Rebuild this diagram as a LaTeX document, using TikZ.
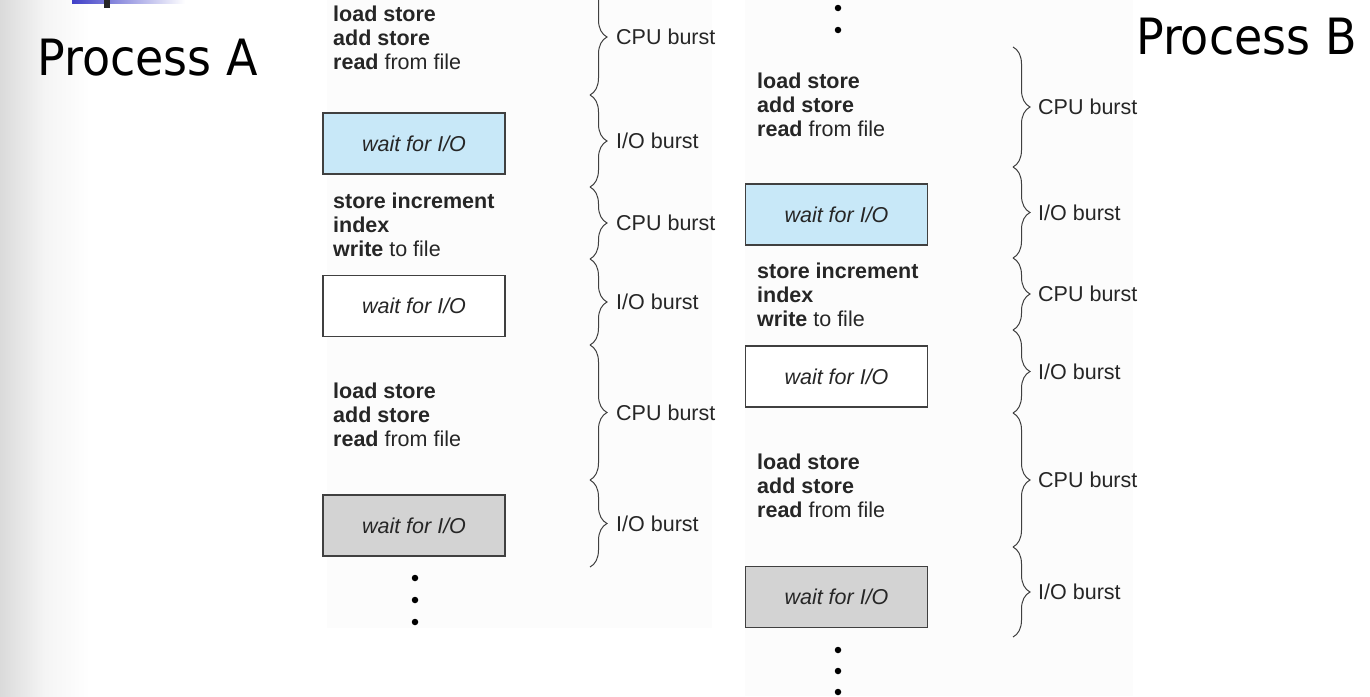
\documentclass[tikz,border=0pt]{standalone}
\usepackage{fontspec}
\setmainfont{Liberation Sans}
\newfontfamily\titlefont[FakeStretch=0.92]{DejaVu Sans}
\usetikzlibrary{decorations.pathreplacing,shadings}
\definecolor{boxblue}{HTML}{C8E8F8}
\definecolor{boxgray}{HTML}{D3D3D3}
\definecolor{ink}{HTML}{262626}
\definecolor{panel}{HTML}{FCFCFC}
\definecolor{barblue}{HTML}{4040C8}
\definecolor{stripgray}{HTML}{DADADA}
\begin{document}
\begin{tikzpicture}[x=1pt,y=-1pt,
  code/.style={anchor=north west, inner sep=0pt, align=left, font=\fontsize{21.5}{24}\selectfont, text=ink},
  waitbox/.style={draw=black!75, line width=1.3pt, minimum width=182pt, minimum height=61pt, inner sep=0pt, font=\fontsize{21.5}{24}\selectfont\itshape, text=ink},
  burstbrace/.style={decorate, decoration={brace, amplitude=17pt}, draw=black!75, line width=1pt},
  burstlabel/.style={anchor=west, inner sep=0pt, font=\fontsize{21.5}{24}\selectfont, text=ink},
  vdot/.style={circle, fill=black, inner sep=0pt, minimum size=6.5pt},
  title/.style={anchor=base west, inner sep=0pt, font=\titlefont\fontsize{50}{55}\selectfont}
]
\clip (0,0) rectangle (1370,696);
\fill[white] (0,0) rectangle (1370,696);
% background decorations
\shade[left color=stripgray, right color=white, middle color=black!4] (0,0) rectangle (90,696);
\fill[panel] (327,0) rectangle (712,628);
\fill[panel] (745,0) rectangle (1133,696);
\shade[left color=barblue, right color=white] (72,0) rectangle (185,3);
\fill[black!85] (104,0) rectangle (110,8);

% titles
\node[title] (ta) at (37,75) {Process A};
\node[title, anchor=base east] (tb) at (1357,54) {Process B};

% Process A column
\node[code] (a1) at (333,5.6) {\textbf{load store}\\\textbf{add store}\\\textbf{read} from file};
\node[waitbox, fill=boxblue] (aw1) at (414,143.5) {wait for I/O};
\node[code] (a2) at (333,192.6) {\textbf{store increment}\\\textbf{index}\\\textbf{write} to file};
\node[waitbox, fill=white] (aw2) at (414,306) {wait for I/O};
\node[code] (a3) at (333,382.6) {\textbf{load store}\\\textbf{add store}\\\textbf{read} from file};
\node[waitbox, fill=boxgray] (aw3) at (414,525.5) {wait for I/O};
\node[vdot] (ad1) at (415,578) {};
\node[vdot] (ad2) at (415,600) {};
\node[vdot] (ad3) at (415,622) {};

% Process A braces
\coordinate (lb0) at (590,-21);
\coordinate (lb1) at (590,95);
\coordinate (lb2) at (590,187);
\coordinate (lb3) at (590,259);
\coordinate (lb4) at (590,345);
\coordinate (lb5) at (590,480);
\coordinate (lb6) at (590,567);
\draw[burstbrace] (lb0) -- (lb1);
\draw[burstbrace] (lb1) -- (lb2);
\draw[burstbrace] (lb2) -- (lb3);
\draw[burstbrace] (lb3) -- (lb4);
\draw[burstbrace] (lb4) -- (lb5);
\draw[burstbrace] (lb5) -- (lb6);
\path (lb0) -- (lb1) node[midway, burstlabel, xshift=26pt] (la1) {CPU burst};
\path (lb1) -- (lb2) node[midway, burstlabel, xshift=26pt] (la2) {I/O burst};
\path (lb2) -- (lb3) node[midway, burstlabel, xshift=26pt] (la3) {CPU burst};
\path (lb3) -- (lb4) node[midway, burstlabel, xshift=26pt] (la4) {I/O burst};
\path (lb4) -- (lb5) node[midway, burstlabel, xshift=26pt] (la5) {CPU burst};
\path (lb5) -- (lb6) node[midway, burstlabel, xshift=26pt] (la6) {I/O burst};

% Process B column
\node[vdot] (bd1) at (838,8) {};
\node[vdot] (bd2) at (838,30) {};
\node[code] (b1) at (757,72.6) {\textbf{load store}\\\textbf{add store}\\\textbf{read} from file};
\node[waitbox, fill=boxblue] (bw1) at (836.5,214.5) {wait for I/O};
\node[code] (b2) at (757,262.6) {\textbf{store increment}\\\textbf{index}\\\textbf{write} to file};
\node[waitbox, fill=white] (bw2) at (836.5,376.5) {wait for I/O};
\node[code] (b3) at (757,453.6) {\textbf{load store}\\\textbf{add store}\\\textbf{read} from file};
\node[waitbox, fill=boxgray] (bw3) at (836.5,597) {wait for I/O};
\node[vdot] (bd3) at (838,650) {};
\node[vdot] (bd4) at (838,671) {};
\node[vdot] (bd5) at (838,692) {};

% Process B braces
\coordinate (rb0) at (1013,47);
\coordinate (rb1) at (1013,167);
\coordinate (rb2) at (1013,258);
\coordinate (rb3) at (1013,330);
\coordinate (rb4) at (1013,413);
\coordinate (rb5) at (1013,547);
\coordinate (rb6) at (1013,637);
\draw[burstbrace] (rb0) -- (rb1);
\draw[burstbrace] (rb1) -- (rb2);
\draw[burstbrace] (rb2) -- (rb3);
\draw[burstbrace] (rb3) -- (rb4);
\draw[burstbrace] (rb4) -- (rb5);
\draw[burstbrace] (rb5) -- (rb6);
\path (rb0) -- (rb1) node[midway, burstlabel, xshift=25pt] (lb1t) {CPU burst};
\path (rb1) -- (rb2) node[midway, burstlabel, xshift=25pt] (lb2t) {I/O burst};
\path (rb2) -- (rb3) node[midway, burstlabel, xshift=25pt] (lb3t) {CPU burst};
\path (rb3) -- (rb4) node[midway, burstlabel, xshift=25pt] (lb4t) {I/O burst};
\path (rb4) -- (rb5) node[midway, burstlabel, xshift=25pt] (lb5t) {CPU burst};
\path (rb5) -- (rb6) node[midway, burstlabel, xshift=25pt] (lb6t) {I/O burst};
\end{tikzpicture}
\end{document}
